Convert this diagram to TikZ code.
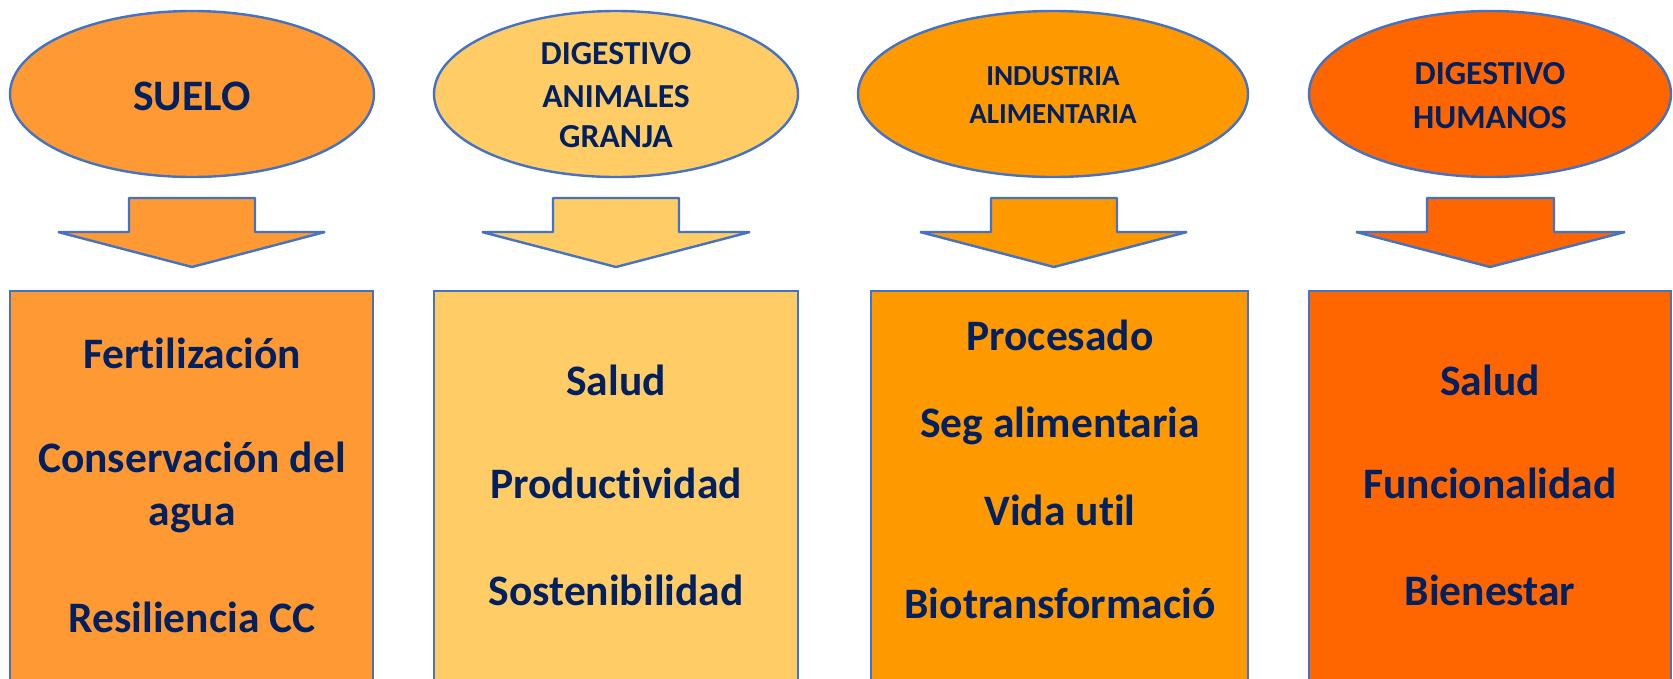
\documentclass[tikz,border=0pt]{standalone}
\usepackage{fontspec}
\setmainfont{Carlito}[Ligatures=NoCommon]
\usetikzlibrary{shapes.geometric}
\definecolor{cA}{HTML}{FF9933}
\definecolor{cB}{HTML}{FFCC66}
\definecolor{cC}{HTML}{FF9900}
\definecolor{cD}{HTML}{FF6600}
\definecolor{edge}{HTML}{4472C4}
\definecolor{navy}{HTML}{002060}
\newcommand\blockarrowdown[6]{%
  \draw[arrowshape, fill=#6] (#1,198) -- (#2,198) -- (#2,232) -- (#4,232) -- (#5,267) -- (#3,232) -- (#1,232) -- cycle;}
\begin{document}
\begin{tikzpicture}[x=1pt, y=-1pt,
  ell/.style={ellipse, draw=edge, line width=2.4pt, inner sep=0pt},
  boxnode/.style={rectangle, draw=edge, line width=2.4pt, inner sep=0pt, minimum height=429pt},
  arrowshape/.style={draw=edge, line width=2.4pt, line join=bevel},
  etext/.style={text=navy, font=\bfseries, anchor=base, inner sep=0pt},
  big/.style={etext, font=\fontsize{43.5}{52}\selectfont\bfseries},
  mid/.style={etext, font=\fontsize{33.6}{40}\selectfont\bfseries},
  small/.style={etext, font=\fontsize{29}{35}\selectfont\bfseries}]
\useasboundingbox (0,0) rectangle (1673,678);
\clip (0,0) rectangle (1673,678);

% ellipses
\node[ell, fill=cA, minimum width=364pt, minimum height=166pt] (e1) at (192,94) {};
\node[ell, fill=cB, minimum width=364pt, minimum height=166pt] (e2) at (616,94) {};
\node[ell, fill=cC, minimum width=390pt, minimum height=166pt] (e3) at (1053,94) {};
\node[ell, fill=cD, minimum width=362pt, minimum height=166pt] (e4) at (1490,94) {};

\node[big] (t1) at (192,110) {SUELO};
\node[mid] (t2a) at (616,64) {DIGESTIVO};
\node[mid] (t2b) at (616,107) {ANIMALES};
\node[mid] (t2c) at (616,147) {GRANJA};
\node[small] (t3a) at (1053,85) {INDUSTRIA};
\node[small] (t3b) at (1053,123) {ALIMENTARIA};
\node[mid] (t4a) at (1490,84) {DIGESTIVO};
\node[mid] (t4b) at (1490,128) {HUMANOS};

% block arrows
\blockarrowdown{129}{255}{58}{325}{192}{cA}
\blockarrowdown{553}{679}{482}{750}{616}{cB}
\blockarrowdown{991}{1117}{920}{1187}{1054}{cC}
\blockarrowdown{1427}{1554}{1356}{1625}{1490}{cD}

% boxes
\node[boxnode, fill=cA, minimum width=363pt] (b1) at (191.5,505.5) {};
\node[boxnode, fill=cB, minimum width=364pt] (b2) at (616,505.5) {};
\node[boxnode, fill=cC, minimum width=377pt] (b3) at (1059.5,505.5) {};
\node[boxnode, fill=cD, minimum width=362pt] (b4) at (1490,505.5) {};

% box texts
\node[big] (s1a) at (192,368) {Fertilización};
\node[big] (s1b) at (192,472) {Conservación del};
\node[big] (s1c) at (192,525) {agua};
\node[big] (s1d) at (192,632) {Resiliencia CC};

\node[big] (s2a) at (616,395) {Salud};
\node[big] (s2b) at (616,498) {Productividad};
\node[big] (s2c) at (616,605) {Sostenibilidad};

\node[big] (s3a) at (1060,350) {Procesado};
\node[big] (s3b) at (1060,437) {Seg alimentaria};
\node[big] (s3c) at (1060,525) {Vida util};
\node[big] (s3d) at (1060,618) {Biotransformació};

\node[big] (s4a) at (1490,395) {Salud};
\node[big] (s4b) at (1490,498) {Funcionalidad};
\node[big] (s4c) at (1490,605) {Bienestar};
\end{tikzpicture}
\end{document}
